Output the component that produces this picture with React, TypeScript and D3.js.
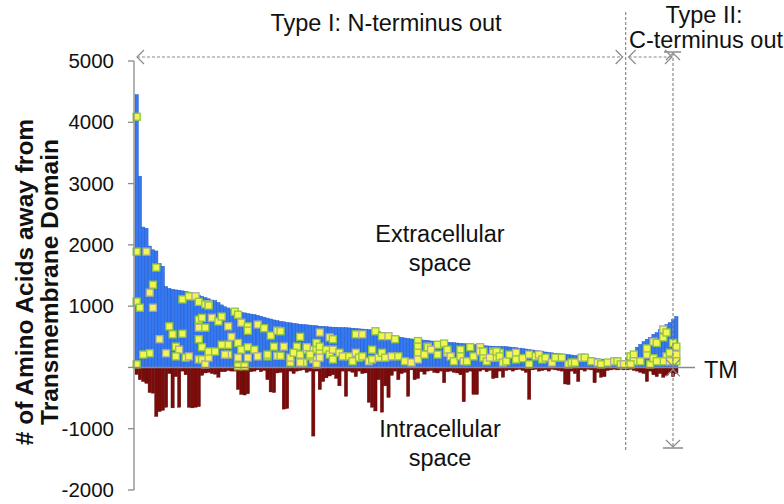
import React from "react";
import * as d3 from "d3";

// Extracellular length (blue bars) — Type I (N-terminus out), sorted descending
const typeIExtra = [
  4450, 3120, 2290, 2270, 1980, 1920, 1900, 1700, 1650, 1320,
  1290, 1275, 1265, 1260, 1250, 1240, 1230, 1215, 1200, 1180,
  1160, 1140, 1120, 1100, 1090, 1060, 1020, 990, 970, 945,
  930, 915, 900, 890, 880, 870, 863, 850, 835, 820,
  805, 790, 775, 765, 752, 745, 735, 728, 720, 712,
  705, 700, 695, 690, 685, 680, 672, 668, 665, 660,
  657, 655, 652, 650, 648, 645, 640, 636, 630, 626,
  622, 618, 610, 598, 585, 570, 555, 540, 525, 512,
  500, 490, 480, 472, 465, 460, 456, 450, 445, 440,
  432, 428, 422, 418, 415, 411, 407, 403, 398, 393,
  388, 383, 378, 372, 368, 362, 357, 352, 348, 346,
  344, 342, 340, 338, 333, 328, 322, 315, 308, 300,
  292, 285, 278, 270, 262, 252, 244, 238, 232, 226,
  220, 214, 208, 202, 196, 190, 182, 174, 166, 158,
  150, 142, 134, 126, 115, 105, 95, 82, 65, 45,
];
// Type II (C-terminus out), ascending
const typeIIExtra = [150, 210, 260, 330, 375, 420, 460, 490, 540, 570, 620, 650, 700, 730, 780, 830];

// Intracellular length (red bars, negative)
const typeIIntra = [
  -115, -200, -230, -260, -410, -420, -800, -720, -700, -650,
  -100, -660, -150, -650, -60, -120, -650, -660, -650, -640,
  -130, -90, -80, -100, -110, -160, -70, -70, -50, -60,
  -60, -360, -440, -450, -430, -70, -60, -40, -70, -50,
  -200, -400, -410, -90, -80, -680, -670, -60, -100, -60,
  -50, -40, -80, -60, -1120, -60, -360, -230, -170, -140,
  -120, -180, -300, -60, -470, -60, -80, -150, -60, -100,
  -90, -570, -650, -710, -200, -730, -300, -490, -130, -60,
  -200, -100, -80, -470, -40, -200, -180, -70, -110, -60,
  -50, -80, -90, -60, -250, -70, -60, -80, -90, -120,
  -560, -80, -60, -440, -440, -60, -40, -70, -50, -180,
  -170, -60, -160, -50, -40, -60, -40, -30, -50, -80,
  -520, -40, -30, -60, -50, -40, -60, -30, -40, -50,
  -60, -270, -280, -60, -100, -230, -40, -60, -30, -40,
  -250, -80, -160, -150, -50, -40, -30, -40, -30, -40,
];
const typeIIIntra = [-40, -30, -50, -60, -80, -100, -230, -60, -120, -150, -100, -160, -130, -80, -150, -100];

// Yellow markers: [protein index, amino-acid position]
const sites: [number, number][] = [
  [0, 4090], [0, 1890], [3, 1890], [6, 1630], [5, 1350], [4, 1220], [0, 1075], [1, 975], [5, 975],
  [14, 1110], [16, 1160], [18, 1160], [19, 1070], [21, 1030], [22, 1030], [10, 670], [11, 540], [7, 460],
  [14, 550], [19, 780], [19, 650], [21, 650], [12, 340], [13, 290], [4, 230], [2, 210], [9, 230], [12, 180],
  [15, 160], [16, 180], [19, 460], [20, 330], [19, 130], [20, 130], [0, 50], [21, 50],
  [20, 810], [22, 1010], [23, 810], [25, 750], [26, 830], [28, 670], [30, 910], [31, 860], [32, 730],
  [34, 670], [34, 600], [37, 700], [39, 640], [41, 520], [43, 600], [44, 590], [50, 500], [56, 570],
  [54, 290], [49, 340], [45, 340], [42, 340], [40, 180], [43, 190], [47, 80], [51, 80], [54, 130], [55, 290],
  [28, 370], [29, 500], [31, 400], [32, 290], [31, 160], [28, 210], [34, 330], [34, 160], [31, 20], [33, 20],
  [22, 160], [22, 260], [24, 260], [27, 210], [26, 370], [36, 290], [37, 180], [40, 210], [44, 190],
  [47, 160], [48, 240], [50, 210], [50, 80], [52, 290], [53, 180], [55, 50], [55, 400], [56, 260],
  [59, 490], [60, 460], [67, 540], [69, 540], [73, 590], [75, 510], [77, 510], [79, 460], [86, 430],
  [89, 340], [92, 370], [94, 390], [95, 240], [99, 290], [102, 330], [105, 330], [109, 260], [111, 240],
  [52, 330], [53, 210], [56, 340], [56, 160], [58, 290], [59, 210], [60, 290], [60, 130], [62, 240],
  [63, 180], [65, 180], [66, 100], [67, 240], [68, 160], [69, 180], [71, 100], [72, 130], [72, 290],
  [74, 160], [75, 240], [76, 160], [78, 180], [80, 180], [82, 100], [84, 80], [86, 340], [86, 240],
  [86, 130], [88, 210], [89, 330], [90, 290], [92, 210], [95, 290], [96, 180], [97, 100], [99, 180],
  [100, 100], [101, 100], [103, 180], [105, 260], [106, 160], [107, 100], [109, 240], [110, 160],
  [106, 260], [108, 160], [110, 260], [111, 180], [112, 80], [113, 100], [114, 210], [116, 240], [116, 130],
  [118, 150], [120, 210], [120, 50], [122, 180], [123, 210], [124, 130], [125, 160], [127, 80], [128, 160],
  [130, 160], [132, 50], [133, 80], [134, 80], [136, 160], [137, 160], [139, 100], [141, 80], [142, 50],
  [144, 80], [146, 100], [147, 100], [148, 50], [149, 50],
  [151, 180], [152, 210], [152, 100], [151, 50], [154, 100], [156, 210], [156, 310], [157, 50], [158, 420],
  [159, 400], [158, 150], [161, 620], [161, 490], [162, 570], [162, 180], [161, 100], [163, 240],
  [163, 100], [164, 400], [165, 340], [165, 210], [165, 100], [159, 100],
];

const yTicks = [-2000, -1000, 0, 1000, 2000, 3000, 4000, 5000];

const extra = [...typeIExtra, ...typeIIExtra];
const intra = [...typeIIntra, ...typeIIIntra];

export default function App() {
  const W = 784, H = 504;
  const x = d3.scaleBand<number>().domain(d3.range(extra.length)).range([135, 678]).padding(0);
  const y = d3.scaleLinear().domain([-2000, 5000]).range([490, 61]);
  const bw = x.bandwidth();
  const y0 = y(0);
  const font = "Arial, 'Liberation Sans', sans-serif";
  const dash = "3,2";
  const gray = "#8a8a8a";
  const dividerX = x(typeIExtra.length)!;
  const rightX = 673;
  const fs = 23.5;

  const chevron = (px: number, py: number, dir: "l" | "r" | "u" | "d", key: string) => {
    const s = 7;
    let d = "";
    if (dir === "l") d = `M${px + s},${py - s} L${px},${py} L${px + s},${py + s}`;
    if (dir === "r") d = `M${px - s},${py - s} L${px},${py} L${px - s},${py + s}`;
    if (dir === "u") d = `M${px - s},${py + s} L${px},${py} L${px + s},${py + s}`;
    if (dir === "d") d = `M${px - s},${py - s} L${px},${py} L${px + s},${py - s}`;
    return <path key={key} d={d} fill="none" stroke={gray} strokeWidth={1.2} />;
  };

  return (
    <svg width={W} height={H} style={{ position: "absolute", left: 0, top: 0, background: "#fff" }}>
      {/* blue bars */}
      {extra.map((v, i) => (
        <rect key={"b" + i} x={x(i)} y={y(v)} width={bw} height={y0 - y(v)} fill="#3479F2" stroke="#2258C8" strokeWidth={0.5} />
      ))}
      {/* red bars */}
      {intra.map((v, i) => (
        <rect key={"r" + i} x={x(i)} y={y0} width={bw} height={y(v) - y0} fill="#7B0B0B" stroke="#5E0505" strokeWidth={0.4} />
      ))}
      {/* markers */}
      {sites.map(([i, v], k) => (
        <rect key={"m" + k} x={x(i)! + bw / 2 - 3.5} y={y(v) - 3.5} width={7} height={7} fill="#F2F552"
          stroke={k % 3 === 2 ? "#A9A9A9" : "#8DC63F"} strokeWidth={1.3} />
      ))}
      {/* TM line */}
      <line x1={134} x2={695} y1={y0} y2={y0} stroke={gray} strokeWidth={1.6} />
      {/* y axis */}
      <line x1={134} x2={134} y1={y(5000)} y2={y(-2000)} stroke={gray} strokeWidth={1.3} />
      {yTicks.map((t) => (
        <g key={"t" + t}>
          <line x1={128} x2={134} y1={y(t)} y2={y(t)} stroke={gray} strokeWidth={1.3} />
          {t !== 0 && (
            <text x={114} y={y(t)} dy="0.35em" textAnchor="end" fontFamily={font} fontSize={20.5} fill="#111">{t}</text>
          )}
        </g>
      ))}
      {/* y title */}
      <g transform={`translate(33,282) rotate(-90)`}>
        <text x={0} y={0} textAnchor="middle" fontFamily={font} fontWeight="bold" fontSize={24.5} fill="#111">
          # of Amino Acids away from
        </text>
        <text x={0} y={25} textAnchor="middle" fontFamily={font} fontWeight="bold" fontSize={24.5} fill="#111">
          Transmembrane Domain
        </text>
      </g>
      {/* annotation arrows */}
      <line x1={137} x2={dividerX - 3} y1={57} y2={57} stroke={gray} strokeWidth={1.2} strokeDasharray={dash} />
      {chevron(137, 57, "l", "a1")}
      {chevron(dividerX - 3, 57, "r", "a2")}
      <line x1={dividerX + 3} x2={rightX - 2} y1={57} y2={57} stroke={gray} strokeWidth={1.2} strokeDasharray={dash} />
      {chevron(dividerX + 3, 57, "l", "a3")}
      {chevron(rightX - 1, 57, "r", "a4")}
      <line x1={dividerX} x2={dividerX} y1={12} y2={452} stroke={gray} strokeWidth={1.2} strokeDasharray={dash} />
      <line x1={rightX} x2={rightX} y1={53} y2={447} stroke={gray} strokeWidth={1.2} strokeDasharray={dash} />
      <line x1={rightX - 9} x2={rightX + 8} y1={52} y2={52} stroke={gray} strokeWidth={1.5} />
      {chevron(rightX, 53, "u", "a5")}
      {chevron(rightX, y0 - 1, "d", "a6")}
      {chevron(rightX, y0 + 2, "u", "a7")}
      {chevron(rightX, 447, "d", "a8")}
      <line x1={rightX - 10} x2={rightX + 10} y1={448} y2={448} stroke={gray} strokeWidth={1.5} />
      {/* texts */}
      <text x={386} y={31} textAnchor="middle" fontFamily={font} fontSize={fs} fill="#111">Type I: N-terminus out</text>
      <text x={704} y={23} textAnchor="middle" fontFamily={font} fontSize={fs} fill="#111">Type II:</text>
      <text x={706} y={48} textAnchor="middle" fontFamily={font} fontSize={fs} fill="#111">C-terminus out</text>
      <text x={440} y={242} textAnchor="middle" fontFamily={font} fontSize={fs} fill="#111">Extracellular</text>
      <text x={440} y={271} textAnchor="middle" fontFamily={font} fontSize={fs} fill="#111">space</text>
      <text x={440} y={437} textAnchor="middle" fontFamily={font} fontSize={fs} fill="#111">Intracellular</text>
      <text x={440} y={466} textAnchor="middle" fontFamily={font} fontSize={fs} fill="#111">space</text>
      <text x={704} y={378} fontFamily={font} fontSize={fs} fill="#111">TM</text>
    </svg>
  );
}
